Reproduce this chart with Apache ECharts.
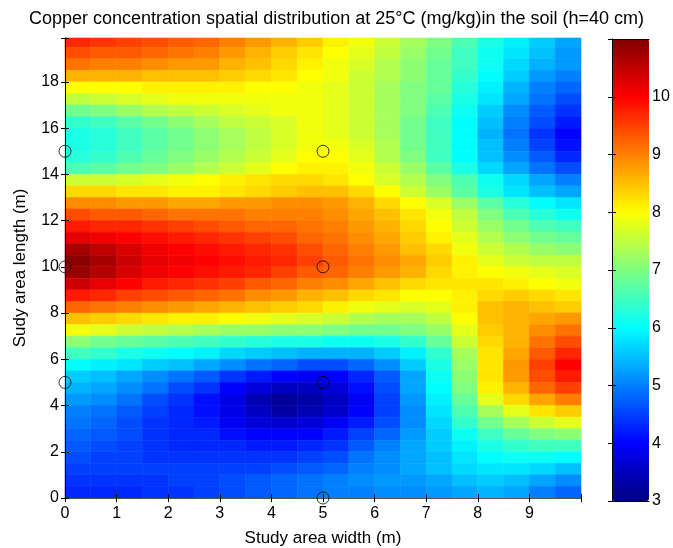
<!DOCTYPE html>
<html>
<head>
<meta charset="utf-8">
<script src="https://cdn.jsdelivr.net/npm/echarts@6/dist/echarts.min.js"></script>
<style>html,body{margin:0;padding:0;background:#fff}#c{width:673px;height:548px}</style>
</head>
<body>
<div id="c"></div>
<script>
// ---- data ----
const titleText = 'Copper concentration spatial distribution at 25°C (mg/kg)in the soil (h=40 cm)';
const xName = 'Study area width (m)';
const yName = 'Sudy area length (m)';
const xCenters = [0.25,0.75,1.25,1.75,2.25,2.75,3.25,3.75,4.25,4.75,5.25,5.75,6.25,6.75,7.25,7.75,8.25,8.75,9.25,9.75];
const yCenters = [19.75,19.25,18.75,18.25,17.75,17.25,16.75,16.25,15.75,15.25,14.75,14.25,13.75,13.25,12.75,12.25,11.75,11.25,10.75,10.25,
                  9.75,9.25,8.75,8.25,7.75,7.25,6.75,6.25,5.75,5.25,4.75,4.25,3.75,3.25,2.75,2.25,1.75,1.25,0.75,0.25];
const r19_75 = [9.7,9.6,9.5,9.4,9.3,9.2,9.0,8.8,8.6,8.4,8.1,7.9,7.6,7.3,7.0,6.6,6.2,5.9,5.6,5.3];
const r19_25 = [9.4,9.3,9.3,9.2,9.1,9.0,8.8,8.6,8.4,8.2,8.0,7.8,7.5,7.2,6.9,6.5,6.1,5.8,5.5,5.2];
const r18_75 = [9.1,9.0,9.0,8.9,8.8,8.8,8.6,8.5,8.3,8.1,7.9,7.7,7.4,7.1,6.8,6.5,6.1,5.7,5.4,5.2];
const r18_25 = [8.6,8.6,8.6,8.5,8.5,8.5,8.4,8.3,8.2,8.0,7.9,7.6,7.4,7.1,6.8,6.4,6.0,5.6,5.2,5.0];
const r17_75 = [8.0,8.0,8.0,8.1,8.1,8.1,8.1,8.0,8.0,7.9,7.8,7.6,7.3,7.0,6.8,6.3,5.9,5.4,5.0,4.8];
const r17_25 = [7.5,7.6,7.7,7.8,7.9,7.9,7.9,7.9,7.9,7.9,7.8,7.6,7.3,7.0,6.7,6.2,5.8,5.3,4.9,4.6];
const r16_75 = [6.9,7.0,7.2,7.4,7.5,7.6,7.7,7.8,7.9,7.9,7.8,7.6,7.3,7.0,6.6,6.1,5.6,5.1,4.7,4.4];
const r16_25 = [6.4,6.5,6.7,6.9,7.1,7.3,7.5,7.6,7.7,7.9,7.8,7.6,7.3,6.9,6.5,6.0,5.5,5.0,4.6,4.2];
const r15_75 = [6.2,6.3,6.5,6.7,6.9,7.1,7.3,7.5,7.7,7.9,7.8,7.6,7.3,6.9,6.5,6.0,5.4,4.9,4.4,4.0];
const r15_25 = [6.2,6.3,6.5,6.7,6.9,7.1,7.3,7.5,7.7,7.9,7.9,7.7,7.4,6.9,6.5,6.0,5.5,5.0,4.5,4.1];
const r14_75 = [6.3,6.4,6.6,6.8,7.0,7.2,7.4,7.6,7.8,8.0,8.0,7.8,7.4,7.0,6.5,6.0,5.5,5.1,4.7,4.3];
const r14_25 = [6.6,6.7,6.9,7.0,7.2,7.4,7.6,7.8,8.0,8.1,8.1,7.9,7.6,7.2,6.7,6.2,5.7,5.3,4.9,4.6];
const r13_75 = [7.6,7.6,7.7,7.8,7.9,8.0,8.1,8.2,8.3,8.3,8.2,8.0,7.7,7.4,7.0,6.6,6.1,5.7,5.3,5.0];
const r13_25 = [8.3,8.3,8.2,8.2,8.1,8.1,8.2,8.3,8.4,8.5,8.5,8.3,8.0,7.6,7.2,6.7,6.2,5.8,5.5,5.3];
const r12_75 = [8.9,8.9,8.8,8.8,8.7,8.7,8.8,8.8,8.9,8.9,8.8,8.6,8.3,8.0,7.7,7.2,6.7,6.3,6.0,5.8];
const r12_25 = [9.4,9.3,9.3,9.2,9.1,9.1,9.1,9.0,9.0,9.0,8.9,8.7,8.5,8.2,7.9,7.5,7.0,6.6,6.3,6.1];
const r11_75 = [9.8,9.7,9.7,9.6,9.5,9.4,9.3,9.2,9.2,9.1,9.0,8.8,8.6,8.3,8.0,7.6,7.2,6.9,6.6,6.5];
const r11_25 = [10.2,10.1,10.0,9.9,9.8,9.7,9.6,9.5,9.4,9.2,9.1,8.9,8.7,8.4,8.1,7.8,7.4,7.1,6.9,6.8];
const r10_75 = [10.7,10.5,10.3,10.1,10.0,9.9,9.8,9.7,9.6,9.4,9.2,9.0,8.8,8.5,8.3,7.9,7.6,7.4,7.2,7.1];
const r10_25 = [10.9,10.7,10.4,10.2,10.1,10.0,9.9,9.8,9.7,9.5,9.3,9.1,8.9,8.7,8.4,8.1,7.8,7.6,7.5,7.5];
const r9_75  = [10.8,10.6,10.3,10.1,10.0,9.9,9.8,9.7,9.5,9.3,9.2,9.0,8.8,8.6,8.3,8.1,8.0,7.9,7.8,7.7];
const r9_25  = [10.4,10.2,10.0,9.8,9.7,9.6,9.5,9.3,9.2,9.0,8.9,8.7,8.5,8.3,8.2,8.2,8.2,8.1,8.0,7.9];
const r8_75  = [9.8,9.7,9.5,9.4,9.3,9.2,9.1,8.9,8.8,8.6,8.5,8.3,8.2,8.0,8.0,8.1,8.3,8.4,8.3,8.2];
const r8_25  = [9.2,9.1,9.0,8.9,8.8,8.7,8.6,8.5,8.4,8.3,8.1,7.9,7.8,7.7,7.8,8.1,8.5,8.6,8.5,8.4];
const r7_75  = [8.5,8.4,8.3,8.2,8.1,8.1,8.0,7.9,7.8,7.7,7.6,7.4,7.3,7.3,7.5,8.0,8.5,8.6,8.7,8.8];
const r7_25  = [7.9,7.8,7.6,7.5,7.4,7.3,7.2,7.2,7.1,7.1,7.0,6.9,6.9,7.0,7.2,7.8,8.4,8.6,8.9,9.1];
const r6_75  = [7.1,6.9,6.8,6.7,6.6,6.5,6.4,6.3,6.2,6.2,6.1,6.1,6.2,6.4,6.8,7.6,8.3,8.6,9.1,9.4];
const r6_25  = [6.5,6.4,6.2,6.1,6.0,5.9,5.7,5.6,5.5,5.4,5.4,5.4,5.6,5.9,6.4,7.3,8.2,8.7,9.3,9.7];
const r5_75  = [6.0,5.9,5.8,5.6,5.5,5.3,5.1,4.9,4.8,4.6,4.6,4.8,5.1,5.6,6.2,7.2,8.2,8.8,9.5,10.0];
const r5_25  = [5.6,5.5,5.3,5.1,4.9,4.7,4.4,4.2,4.0,3.9,4.0,4.3,4.7,5.3,6.1,7.1,8.2,8.8,9.4,9.8];
const r4_75  = [5.4,5.3,5.1,4.9,4.6,4.4,4.0,3.7,3.5,3.5,3.7,4.1,4.6,5.3,6.0,7.0,8.1,8.6,9.2,9.5];
const r4_25  = [5.2,5.1,4.9,4.6,4.4,4.1,3.8,3.4,3.2,3.3,3.5,3.9,4.5,5.2,5.9,6.8,7.8,8.3,8.7,9.0];
const r3_75  = [5.0,4.9,4.7,4.5,4.3,4.1,3.8,3.5,3.3,3.4,3.6,4.0,4.5,5.1,5.8,6.6,7.3,7.8,8.2,8.4];
const r3_25  = [4.9,4.8,4.6,4.4,4.3,4.2,3.9,3.7,3.6,3.7,3.9,4.2,4.6,5.1,5.7,6.4,6.9,7.3,7.6,7.8];
const r2_75  = [4.8,4.7,4.6,4.4,4.3,4.3,4.1,4.0,4.0,4.0,4.2,4.5,4.8,5.2,5.6,6.1,6.5,6.8,7.0,7.1];
const r2_25  = [4.7,4.6,4.5,4.4,4.3,4.3,4.3,4.2,4.2,4.3,4.4,4.7,5.0,5.3,5.6,5.9,6.2,6.4,6.5,6.5];
const r1_75  = [4.6,4.5,4.5,4.4,4.4,4.4,4.4,4.4,4.4,4.5,4.6,4.9,5.1,5.3,5.5,5.8,6.0,6.1,6.1,6.0];
const r1_25  = [4.5,4.5,4.5,4.5,4.5,4.5,4.5,4.5,4.6,4.7,4.8,5.0,5.1,5.3,5.5,5.7,5.8,5.8,5.7,5.5];
const r0_75  = [4.4,4.4,4.4,4.4,4.5,4.5,4.6,4.7,4.8,4.9,5.0,5.1,5.2,5.2,5.3,5.5,5.6,5.5,5.3,5.1];
const r0_25  = [4.3,4.3,4.3,4.4,4.4,4.5,4.6,4.7,4.8,4.9,5.0,5.0,5.1,5.1,5.2,5.3,5.4,5.3,5.0,4.8];
const rows = [r19_75,r19_25,r18_75,r18_25,r17_75,r17_25,r16_75,r16_25,r15_75,r15_25,r14_75,r14_25,r13_75,r13_25,
              r12_75,r12_25,r11_75,r11_25,r10_75,r10_25,r9_75,r9_25,r8_75,r8_25,r7_75,r7_25,r6_75,r6_25,r5_75,r5_25,
              r4_75,r4_25,r3_75,r3_25,r2_75,r2_25,r1_75,r1_25,r0_75,r0_25];
const sampleX = [0,0,0,5,5,5,5];
const sampleY = [5,10,15,0,5,10,15];
const cellW = 0.5, cellH = 0.5;
const xMax = 10, yMax = 19.9;
const colorMin = 3, colorMax = 11;
const jet = ['#000080','#0000ff','#0080ff','#00ffff','#80ff80','#ffff00','#ff8000','#ff0000','#800000'];

// ---- build series data ----
const cells = [];
rows.forEach((row, i) => row.forEach((v, j) => cells.push([xCenters[j], yCenters[i], v])));
const samples = sampleX.map((x, i) => [x, sampleY[i]]);

const chart = echarts.init(document.getElementById('c'), null, {renderer: 'canvas'});
const font = 'Liberation Sans, Arial, sans-serif';
const tickLbl = {color: '#000', fontSize: 16, fontFamily: font};
const nameLbl = {color: '#000', fontSize: 17, fontFamily: font};

chart.setOption({
  animation: false,
  title: {text: titleText, left: 'center', top: 5,
          textStyle: {fontSize: 18, fontWeight: 'normal', color: '#000', fontFamily: font}},
  grid: [
    {left: 65, top: 38, width: 516, height: 460, outerBoundsMode: 'none', containLabel: false},
    {left: 612, top: 39, width: 37, height: 462, outerBoundsMode: 'none', containLabel: false}
  ],
  visualMap: {
    type: 'continuous', min: colorMin, max: colorMax, seriesIndex: 0, dimension: 2,
    inRange: {color: jet}, left: 612, top: 39, itemWidth: 37, itemHeight: 462,
    padding: 0, calculable: false, show: true, hoverLink: false
  },
  xAxis: [
    {gridIndex: 0, type: 'value', min: 0, max: xMax, interval: 1, position: 'bottom', z: 10,
     name: xName, nameLocation: 'middle', nameGap: 32, nameTextStyle: nameLbl,
     axisLine: {lineStyle: {color: '#000'}}, axisTick: {inside: true, length: 4, lineStyle: {color: '#000'}},
     axisLabel: Object.assign({margin: 8, formatter: v => v >= xMax ? '' : String(v)}, tickLbl), splitLine: {show: false}},
    {gridIndex: 0, type: 'value', min: 0, max: xMax, interval: 1, position: 'top', z: 10,
     axisLine: {lineStyle: {color: '#555'}}, axisTick: {inside: true, length: 4, lineStyle: {color: '#000'}},
     axisLabel: {show: false}, splitLine: {show: false}},
    {gridIndex: 1, type: 'value', min: 0, max: 1, position: 'bottom', z: 10,
     axisLine: {lineStyle: {color: '#000'}}, axisTick: {show: false}, axisLabel: {show: false}, splitLine: {show: false}},
    {gridIndex: 1, type: 'value', min: 0, max: 1, position: 'top', z: 10,
     axisLine: {lineStyle: {color: '#000'}}, axisTick: {show: false}, axisLabel: {show: false}, splitLine: {show: false}}
  ],
  yAxis: [
    {gridIndex: 0, type: 'value', min: 0, max: yMax, interval: 2, position: 'left', z: 10,
     name: yName, nameLocation: 'middle', nameGap: 36, nameTextStyle: nameLbl,
     axisLine: {lineStyle: {color: '#555'}}, axisTick: {inside: true, length: 4, lineStyle: {color: '#000'}},
     axisLabel: Object.assign({margin: 6, formatter: v => v >= yMax ? '' : String(v)}, tickLbl), splitLine: {show: false}},
    {gridIndex: 0, type: 'value', min: 0, max: yMax, interval: 2, position: 'right', z: 10,
     axisLine: {lineStyle: {color: '#000'}}, axisTick: {inside: true, length: 4, lineStyle: {color: '#000'}},
     axisLabel: {show: false}, splitLine: {show: false}},
    {gridIndex: 1, type: 'value', min: colorMin, max: colorMax, interval: 1, position: 'right', z: 10,
     axisLine: {lineStyle: {color: '#000'}}, axisTick: {inside: true, length: 4, lineStyle: {color: '#000'}},
     axisLabel: Object.assign({margin: 3, formatter: v => v >= colorMax ? '' : String(v)}, tickLbl), splitLine: {show: false}},
    {gridIndex: 1, type: 'value', min: colorMin, max: colorMax, interval: 1, position: 'left', z: 10,
     axisLine: {lineStyle: {color: '#000'}}, axisTick: {inside: true, length: 4, lineStyle: {color: '#000'}},
     axisLabel: {show: false}, splitLine: {show: false}}
  ],
  series: [
    {
      type: 'custom', xAxisIndex: 0, yAxisIndex: 0, data: cells, z: 2,
      renderItem: function (params, api) {
        const x = api.value(0), y = api.value(1);
        const p1 = api.coord([x - cellW / 2, y + cellH / 2]);
        const p2 = api.coord([x + cellW / 2, y - cellH / 2]);
        const cs = params.coordSys;
        const rect = echarts.graphic.clipRectByRect(
          {x: p1[0], y: p1[1], width: p2[0] - p1[0], height: p2[1] - p1[1]},
          {x: cs.x, y: cs.y, width: cs.width, height: cs.height});
        if (!rect) return null;
        const c = api.visual('color');
        return {type: 'rect', shape: rect, style: {fill: c, stroke: c, lineWidth: 0.6}};
      }
    },
    {
      type: 'scatter', xAxisIndex: 0, yAxisIndex: 0, data: samples, z: 20,
      symbol: 'circle', symbolSize: 12, clip: false, silent: true,
      itemStyle: {color: 'rgba(0,0,0,0)', borderColor: '#000', borderWidth: 1}
    }
  ]
});
</script>
</body>
</html>
